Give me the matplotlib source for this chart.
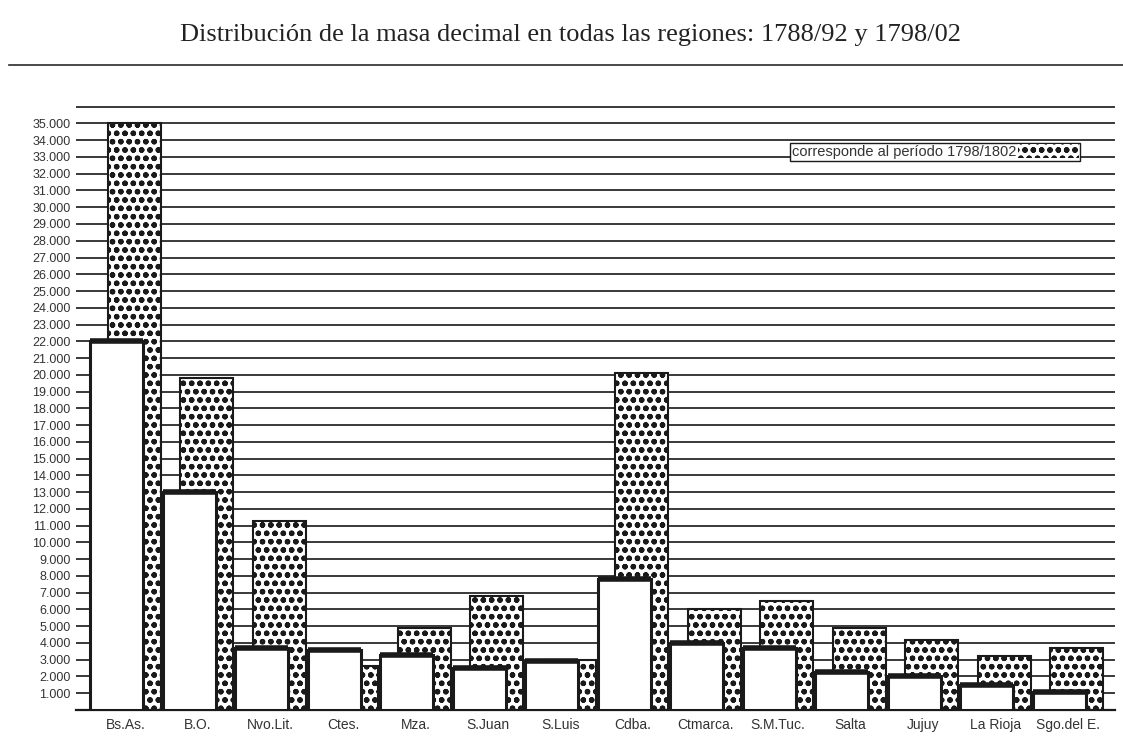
import numpy as np
import matplotlib
matplotlib.use("Agg")
import matplotlib.pyplot as plt
from matplotlib.patches import Patch
from matplotlib.lines import Line2D

# datos (masa decimal)
regiones = ["Bs.As.", "B.O.", "Nvo.Lit.", "Ctes.", "Mza.", "S.Juan", "S.Luis",
            "Cdba.", "Ctmarca.", "S.M.Tuc.", "Salta", "Jujuy", "La Rioja", "Sgo.del E."]
periodo_1788 = [22000, 13000, 3700, 3600, 3300, 2500, 2900,
                7800, 4000, 3700, 2250, 2000, 1500, 1100]
periodo_1798 = [35000, 19800, 11300, 2600, 4900, 6800, 3000,
                20100, 6000, 6500, 4900, 4200, 3250, 3700]
y_ticks = list(range(1000, 37000, 1000))
y_labels = ["{:,}".format(v).replace(",", ".") if v <= 35000 else "" for v in y_ticks]

plt.rcParams["hatch.color"] = "#1a1a1a"
plt.rcParams["hatch.linewidth"] = 1.6

fig = plt.figure(figsize=(11.23, 7.45), dpi=100)
ax = fig.add_axes([0.068, 0.047, 0.925, 0.8107])

x = np.arange(len(regiones))
w = 0.73
off = 0.24

ax.bar(x + off, periodo_1798, width=w, facecolor="white", edgecolor="#1a1a1a",
       linewidth=1.5, hatch="oo", zorder=2)
ax.bar(x, periodo_1788, width=w, facecolor="white", edgecolor="#1a1a1a",
       linewidth=2.2, zorder=3)
# borde superior grueso de las barras blancas
ax.hlines(periodo_1788, x - w / 2, x + w / 2, color="#1a1a1a", linewidth=4, zorder=4)

ax.set_xlim(-0.559, 13.77)
ax.set_ylim(0, 36040)
ax.set_yticks(y_ticks)
ax.set_yticklabels(y_labels, fontsize=9, color="#333333", family="Liberation Sans")
ax.set_xticks(x + 0.12)
ax.set_xticklabels(regiones, fontsize=10, color="#333333", family="Liberation Sans")
ax.tick_params(axis="both", length=0)
ax.tick_params(axis="y", pad=4)
ax.tick_params(axis="x", pad=6)
ax.grid(axis="y", color="#2a2a2a", linewidth=1.3, zorder=1)
ax.set_axisbelow(True)
for s in ["top", "right", "left"]:
    ax.spines[s].set_visible(False)
ax.spines["bottom"].set_color("#1a1a1a")
ax.spines["bottom"].set_linewidth(1.6)

leg = ax.legend(handles=[Patch(facecolor="white", edgecolor="#1a1a1a", linewidth=0, hatch="oo")],
                labels=["corresponde al período 1798/1802"], markerfirst=False,
                loc="center", bbox_to_anchor=(0.827, 0.924), fancybox=False,
                edgecolor="#1a1a1a", framealpha=1, borderpad=0.1, borderaxespad=0,
                handlelength=4.2, handleheight=1.1, handletextpad=0.1,
                prop={"family": "Liberation Sans", "size": 10.5})
leg.get_frame().set_linewidth(1.0)
for t in leg.get_texts():
    t.set_color("#333333")

fig.text(0.508, 0.953, "Distribución de la masa decimal en todas las regiones: 1788/92 y 1798/02",
         ha="center", va="center", fontsize=19, family="Liberation Serif", color="#222222")
fig.add_artist(Line2D([0.008, 1.0], [0.9128, 0.9128], transform=fig.transFigure,
                      color="#2a2a2a", linewidth=1.2))

fig.savefig("out.png", dpi=100)
